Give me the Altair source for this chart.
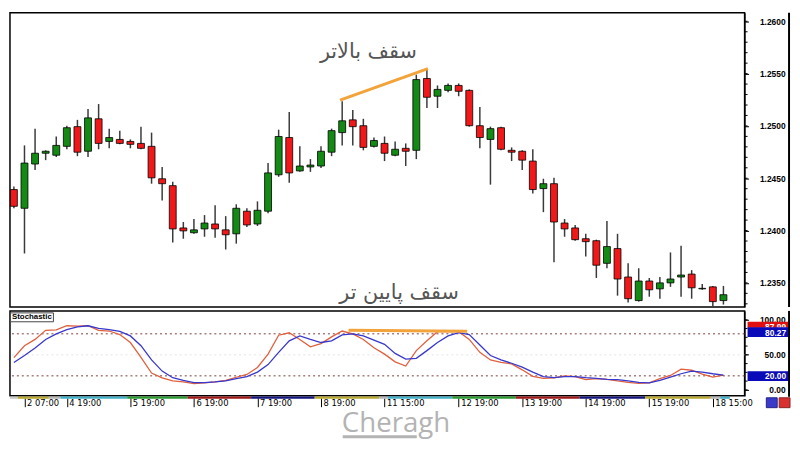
import altair as alt
import pandas as pd

# ---------------- data ----------------
opens = [1.24392, 1.24213, 1.24636, 1.24739, 1.24720, 1.24805, 1.24993, 1.24758, 1.25068, 1.24852,
         1.24871, 1.24852, 1.24833, 1.24805, 1.24495, 1.24429, 1.24025, 1.23979, 1.24016, 1.24063,
         1.24007, 1.23969, 1.24185, 1.24063, 1.24185, 1.24533, 1.24889, 1.24570, 1.24608, 1.24617,
         1.24749, 1.24936, 1.25058, 1.25002, 1.24805, 1.24833, 1.24720, 1.24786, 1.24767, 1.25453,
         1.25284, 1.25340, 1.25387, 1.25340, 1.25002, 1.24871, 1.24983, 1.24767, 1.24758, 1.24664,
         1.24401, 1.24448, 1.24072, 1.24025, 1.23922, 1.23903, 1.23687, 1.23828, 1.23556, 1.23331,
         1.23518, 1.23443, 1.23500, 1.23556, 1.23584, 1.23443, 1.23462, 1.23331]
highs = [1.24420, 1.24814, 1.24974, 1.24767, 1.24899, 1.25002, 1.25058, 1.25162, 1.25209, 1.24974,
         1.24955, 1.24871, 1.24993, 1.24936, 1.24608, 1.24467, 1.24082, 1.24110, 1.24148, 1.24241,
         1.24138, 1.24251, 1.24213, 1.24279, 1.24645, 1.24964, 1.25133, 1.24805, 1.24683, 1.24805,
         1.24974, 1.25237, 1.25152, 1.25068, 1.24889, 1.24899, 1.24852, 1.24833, 1.25490, 1.25537,
         1.25387, 1.25406, 1.25406, 1.25349, 1.25180, 1.24993, 1.24993, 1.24795, 1.24767, 1.24777,
         1.24495, 1.24504, 1.24110, 1.24054, 1.23969, 1.23913, 1.24091, 1.23969, 1.23687, 1.23640,
         1.23547, 1.23556, 1.23791, 1.23856, 1.23622, 1.23490, 1.23471, 1.23471]
lows = [1.24213, 1.23781, 1.24579, 1.24673, 1.24702, 1.24777, 1.24711, 1.24702, 1.24777, 1.24786,
        1.24824, 1.24786, 1.24777, 1.24448, 1.24288, 1.23885, 1.23922, 1.23969, 1.23941, 1.23932,
        1.23819, 1.23875, 1.24035, 1.24044, 1.24166, 1.24514, 1.24457, 1.24561, 1.24561, 1.24598,
        1.24711, 1.24814, 1.24814, 1.24767, 1.24795, 1.24664, 1.24711, 1.24617, 1.24683, 1.25171,
        1.25171, 1.25321, 1.25284, 1.24993, 1.24786, 1.24439, 1.24767, 1.24664, 1.24579, 1.24354,
        1.24176, 1.23697, 1.23941, 1.23903, 1.23753, 1.23547, 1.23640, 1.23378, 1.23312, 1.23321,
        1.23368, 1.23349, 1.23462, 1.23368, 1.23349, 1.23434, 1.23274, 1.23293]
closes = [1.24232, 1.24645, 1.24739, 1.24758, 1.24814, 1.24983, 1.24749, 1.25077, 1.24833, 1.24889,
          1.24833, 1.24824, 1.24786, 1.24504, 1.24448, 1.24016, 1.23997, 1.24007, 1.24072, 1.24016,
          1.23960, 1.24213, 1.24054, 1.24194, 1.24551, 1.24899, 1.24551, 1.24617, 1.24626, 1.24758,
          1.24955, 1.25049, 1.24993, 1.24795, 1.24861, 1.24739, 1.24777, 1.24758, 1.25443, 1.25274,
          1.25349, 1.25387, 1.25331, 1.25002, 1.24889, 1.24974, 1.24777, 1.24749, 1.24673, 1.24392,
          1.24448, 1.24082, 1.24016, 1.23913, 1.23894, 1.23669, 1.23847, 1.23537, 1.23349, 1.23518,
          1.23434, 1.23500, 1.23537, 1.23575, 1.23453, 1.23448, 1.23321, 1.23387]

stoch_main = [46, 63, 72, 85, 85.5, 91.5, 91, 91.5, 85, 84,
              79, 67.6, 46.5, 24, 17, 12.7, 11.3, 9, 10, 11.3,
              13.6, 18, 22, 32, 51, 78, 81.5, 72, 61.5, 66,
              75.6, 84, 80, 72, 60, 51, 40, 34, 56, 70,
              83, 83, 83, 72, 53.5, 42.7, 39.4, 37, 28.6, 19.2,
              16.4, 17, 20, 19, 14.6, 16, 15, 12.7, 10.8, 9.4,
              9.9, 16, 20.6, 29.6, 28, 22.5, 18.3, 21]
stoch_signal = [39, 49, 59.6, 72, 80, 86, 90, 91.5, 87.7, 86,
                83.6, 77, 63, 42.7, 26.8, 17.4, 13.6, 10.3, 10.3, 11.3,
                12.7, 16, 19, 25.4, 36, 53.5, 70, 77, 72, 67.6,
                70, 78.4, 80, 77, 71, 65, 52, 44, 45, 56,
                67.6, 77, 81.7, 79, 64, 49, 42.7, 38, 32.4, 25.4,
                19, 17.4, 19, 19, 17.4, 16.4, 15, 14.6, 12.7, 10.8,
                9.9, 13.6, 18.3, 23, 26.8, 25.4, 23, 21]

# trend lines (candle index, value)
top_line_x = [30.8, 39.1]
top_line_price = [1.25246, 1.25547]
stoch_line_x = [31.6, 42.8]
stoch_line_val = [85.2, 83.8]

stoch_levels = [80, 20]

# axis labels
price_labels = [1.2350, 1.2400, 1.2450, 1.2500, 1.2550, 1.2600]
stoch_labels = [0, 25, 50, 75, 100]
time_label_pos = [1, 5, 11, 17, 23, 29, 35, 42, 48, 54, 60, 66]
time_labels = ["2 07:00", "4 19:00", "5 19:00", "6 19:00", "7 19:00", "8 19:00",
               "11 15:00", "12 19:00", "13 19:00", "14 19:00", "15 19:00", "18 15:00"]

# period separator strip
seg_start = [-0.37, 0.37, 3.3, 4.4, 10.7, 16.4, 22.4, 28.4, 34.5, 35.3, 41.4, 47.4, 53.4, 59.6, 65.8, 66.7]
seg_end = [0.37, 3.3, 4.4, 10.7, 16.4, 22.4, 28.4, 34.5, 35.3, 41.4, 47.4, 53.4, 59.6, 65.8, 66.7, 67.6]
seg_color = ["#c8c8c8", "#b8a830", "#b8b8b8", "#40b0c8", "#2a9a30", "#a01818", "#151580", "#b8a830",
             "#b8b8b8", "#40b0c8", "#2a9a30", "#a01818", "#151580", "#b8a830", "#b8b8b8", "#40b0c8"]

annot_text = ["سقف بالاتر", "سقف پایین تر"]
box_labels = ["87.99", "80.27", "20.00"]
indicator_name = "Stochastic"
watermark = "Cheragh"

# ---------------- layout ----------------
W = 744
H1 = 298
H2 = 86
GREEN = "#138a13"
RED = "#f01818"

xscale = alt.Scale(domain=[-0.37, 69.0], nice=False, zero=False, padding=0)
yscale = alt.Scale(domain=[1.2327, 1.26082], nice=False, zero=False, padding=0)
sscale = alt.Scale(domain=[-8.5, 112.7], nice=False, zero=False, padding=0)

minor_price_ticks = [round(1.233 + 0.001 * k, 3) for k in range(28)]
minor_stoch_ticks = [12.5 * k for k in range(9)]

candles = pd.DataFrame({"i": list(range(len(opens))), "open": opens, "high": highs,
                        "low": lows, "close": closes})
candles["col"] = [GREEN if c >= o else RED for o, c in zip(opens, closes)]

price_axis = alt.Axis(orient="right", values=price_labels, format=".4f",
                      tickSize=4, tickColor="black", domainColor="black", grid=False, title=None,
                      labelFont="Liberation Sans", labelFontWeight="bold", labelFontSize=8.5,
                      labelColor="black", labelAlign="right", labelPadding=37, labelBaseline="middle",
                      labelOverlap=False, labelFlush=False)

xenc = alt.X("i:Q", scale=xscale, axis=None)

wicks = alt.Chart(candles).mark_rule(color="#3a3a3a", strokeWidth=1.5).encode(
    x=xenc, y=alt.Y("low:Q", scale=yscale, axis=price_axis), y2="high:Q")
bodies = alt.Chart(candles).mark_bar(size=7, stroke="black", strokeWidth=0.8).encode(
    x=xenc, y=alt.Y("open:Q", scale=yscale), y2="close:Q",
    color=alt.Color("col:N", scale=None, legend=None))
pticks = alt.Chart(pd.DataFrame({"p": minor_price_ticks})).mark_rule(color="black", strokeWidth=1).encode(
    y=alt.Y("p:Q", scale=yscale), x=alt.value(W), x2=alt.value(W + 3))
top_line = alt.Chart(pd.DataFrame({"i": top_line_x, "p": top_line_price})).mark_line(
    color="#f2a33a", strokeWidth=3).encode(x=xenc, y=alt.Y("p:Q", scale=yscale))
t1 = alt.Chart(pd.DataFrame({"t": [annot_text[0]]})).mark_text(
    font="DejaVu Sans", fontSize=21, color="#555555", baseline="middle").encode(
    text="t:N", x=alt.value(363), y=alt.value(40))
t2 = alt.Chart(pd.DataFrame({"t": [annot_text[1]]})).mark_text(
    font="DejaVu Sans", fontSize=21, color="#555555", baseline="middle").encode(
    text="t:N", x=alt.value(394), y=alt.value(284))
frame1 = alt.Chart(pd.DataFrame({"t": [0]})).mark_rule(color="black", strokeWidth=2).encode(
    x=alt.value(789), y=alt.value(0), y2=alt.value(H1))

main = alt.layer(wicks, bodies, pticks, top_line, t1, t2, frame1).properties(width=W, height=H1)

# ---------------- stochastic panel ----------------
label_expr = ""
for p, l in zip(time_label_pos, time_labels):
    label_expr += f"datum.value == {p} ? '{l}' : "
label_expr += "''"

time_axis = alt.Axis(orient="bottom", values=time_label_pos, labelExpr=label_expr, offset=2,
                     domain=False, tickSize=9, tickColor="black", tickWidth=1, grid=False, title=None,
                     labelAlign="left", labelBaseline="middle", labelPadding=-4, labelOffset=2,
                     labelFont="DejaVu Sans", labelFontSize=8.5, labelColor="black",
                     labelOverlap=False, labelFlush=False)
stoch_axis = alt.Axis(orient="right", values=stoch_labels, format=".2f",
                      tickSize=4, tickColor="black", domainColor="black", grid=False, title=None,
                      labelFont="Liberation Sans", labelFontWeight="bold", labelFontSize=8.5,
                      labelColor="black", labelAlign="right", labelPadding=37, labelBaseline="middle",
                      labelOverlap=False, labelFlush=False)

sx = alt.X("i:Q", scale=xscale, axis=time_axis)

main_df = pd.DataFrame({"i": list(range(len(stoch_main))), "v": stoch_main})
signal_df = pd.DataFrame({"i": list(range(len(stoch_signal))), "v": stoch_signal})

strip = alt.Chart(pd.DataFrame({"a": seg_start, "b": seg_end, "c": seg_color})).transform_calculate(
    i="datum.a").mark_rect().encode(
    x=sx, x2="b:Q", y=alt.value(H2 + 0.8), y2=alt.value(H2 + 3),
    color=alt.Color("c:N", scale=None, legend=None))
levels = alt.Chart(pd.DataFrame({"lvl": stoch_levels})).mark_rule(
    color="#7a3a3a", strokeDash=[2, 3], strokeWidth=1).encode(
    y=alt.Y("lvl:Q", scale=sscale, axis=stoch_axis))
mid = alt.Chart(pd.DataFrame({"lvl": [50]})).mark_rule(
    color="#e4e4e4", strokeDash=[2, 3], strokeWidth=1).encode(y=alt.Y("lvl:Q", scale=sscale))
sticks = alt.Chart(pd.DataFrame({"v": minor_stoch_ticks})).mark_rule(color="black", strokeWidth=1).encode(
    y=alt.Y("v:Q", scale=sscale), x=alt.value(W), x2=alt.value(W + 3))
red_line = alt.Chart(main_df).mark_line(strokeWidth=1.3, color="#e0603e").encode(
    x=sx, y=alt.Y("v:Q", scale=sscale))
blue_line = alt.Chart(signal_df).mark_line(strokeWidth=1.3, color="#3838cc").encode(
    x=sx, y=alt.Y("v:Q", scale=sscale))
s_line = alt.Chart(pd.DataFrame({"i": stoch_line_x, "v": stoch_line_val})).mark_line(
    color="#f2a33a", strokeWidth=3).encode(x=sx, y=alt.Y("v:Q", scale=sscale))

name_box = alt.Chart(pd.DataFrame({"t": [indicator_name]})).mark_rect(
    fill="white", stroke="#444444", strokeWidth=1).encode(
    x=alt.value(0.5), x2=alt.value(44), y=alt.value(2), y2=alt.value(11))
name_txt = alt.Chart(pd.DataFrame({"t": [indicator_name]})).mark_text(
    font="Liberation Sans", fontWeight="bold", fontSize=8, color="black", align="left",
    baseline="middle").encode(text="t:N", x=alt.value(2), y=alt.value(6.5))

red_box = alt.Chart(pd.DataFrame({"t": [box_labels[0]]})).mark_rect(fill="#e01010").encode(
    x=alt.value(747), x2=alt.value(789), y=alt.value(11), y2=alt.value(17))
red_txt = alt.Chart(pd.DataFrame({"t": [box_labels[0]]})).mark_text(
    font="Liberation Sans", fontWeight="bold", fontSize=8.5, color="white", align="right",
    baseline="middle").encode(text="t:N", x=alt.value(786), y=alt.value(16))
blue_box = alt.Chart(pd.DataFrame({"t": [box_labels[1]]})).mark_rect(fill="#0a0ab8").encode(
    x=alt.value(747), x2=alt.value(789), y=alt.value(16.5), y2=alt.value(26.5))
blue_txt = alt.Chart(pd.DataFrame({"t": [box_labels[1]]})).mark_text(
    font="Liberation Sans", fontWeight="bold", fontSize=8.5, color="white", align="right",
    baseline="middle").encode(text="t:N", x=alt.value(786), y=alt.value(22))
blue_box2 = alt.Chart(pd.DataFrame({"t": [box_labels[2]]})).mark_rect(fill="#0a0ab8").encode(
    x=alt.value(747), x2=alt.value(789), y=alt.value(61), y2=alt.value(71))
blue_txt2 = alt.Chart(pd.DataFrame({"t": [box_labels[2]]})).mark_text(
    font="Liberation Sans", fontWeight="bold", fontSize=8.5, color="white", align="right",
    baseline="middle").encode(text="t:N", x=alt.value(786), y=alt.value(66))

icon1 = alt.Chart(pd.DataFrame({"t": [0]})).mark_rect(fill="#3a3ac8", stroke="#222288").encode(
    x=alt.value(766), x2=alt.value(777), y=alt.value(88), y2=alt.value(98))
icon2 = alt.Chart(pd.DataFrame({"t": [0]})).mark_rect(fill="#d83030", stroke="#882222").encode(
    x=alt.value(779), x2=alt.value(790), y=alt.value(88), y2=alt.value(98))

frame2 = alt.Chart(pd.DataFrame({"t": [0]})).mark_rule(color="black", strokeWidth=2).encode(
    x=alt.value(789), y=alt.value(0), y2=alt.value(H2 + 1))

wm = alt.Chart(pd.DataFrame({"t": [watermark]})).mark_text(
    font="Open Sans", fontSize=28, color="#b3b3b3", align="center", baseline="alphabetic").encode(
    text="t:N", x=alt.value(391), y=alt.value(123))
wm_bar = alt.Chart(pd.DataFrame({"t": [watermark]})).mark_rule(color="#b3b3b3", strokeWidth=3).encode(
    x=alt.value(337), x2=alt.value(412), y=alt.value(127.5))

stoch = alt.layer(mid, levels, sticks, strip, red_line, blue_line, s_line, name_box, name_txt,
                  red_box, red_txt, blue_box, blue_txt, blue_box2, blue_txt2,
                  icon1, icon2, frame2, wm, wm_bar).properties(width=W, height=H2)

chart = alt.vconcat(main, stoch, spacing=0).properties(
    padding=0, background="white"
).configure_view(stroke="black", strokeWidth=1.5)

chart.save("out.html", embed_options={"renderer": "svg", "actions": False})
